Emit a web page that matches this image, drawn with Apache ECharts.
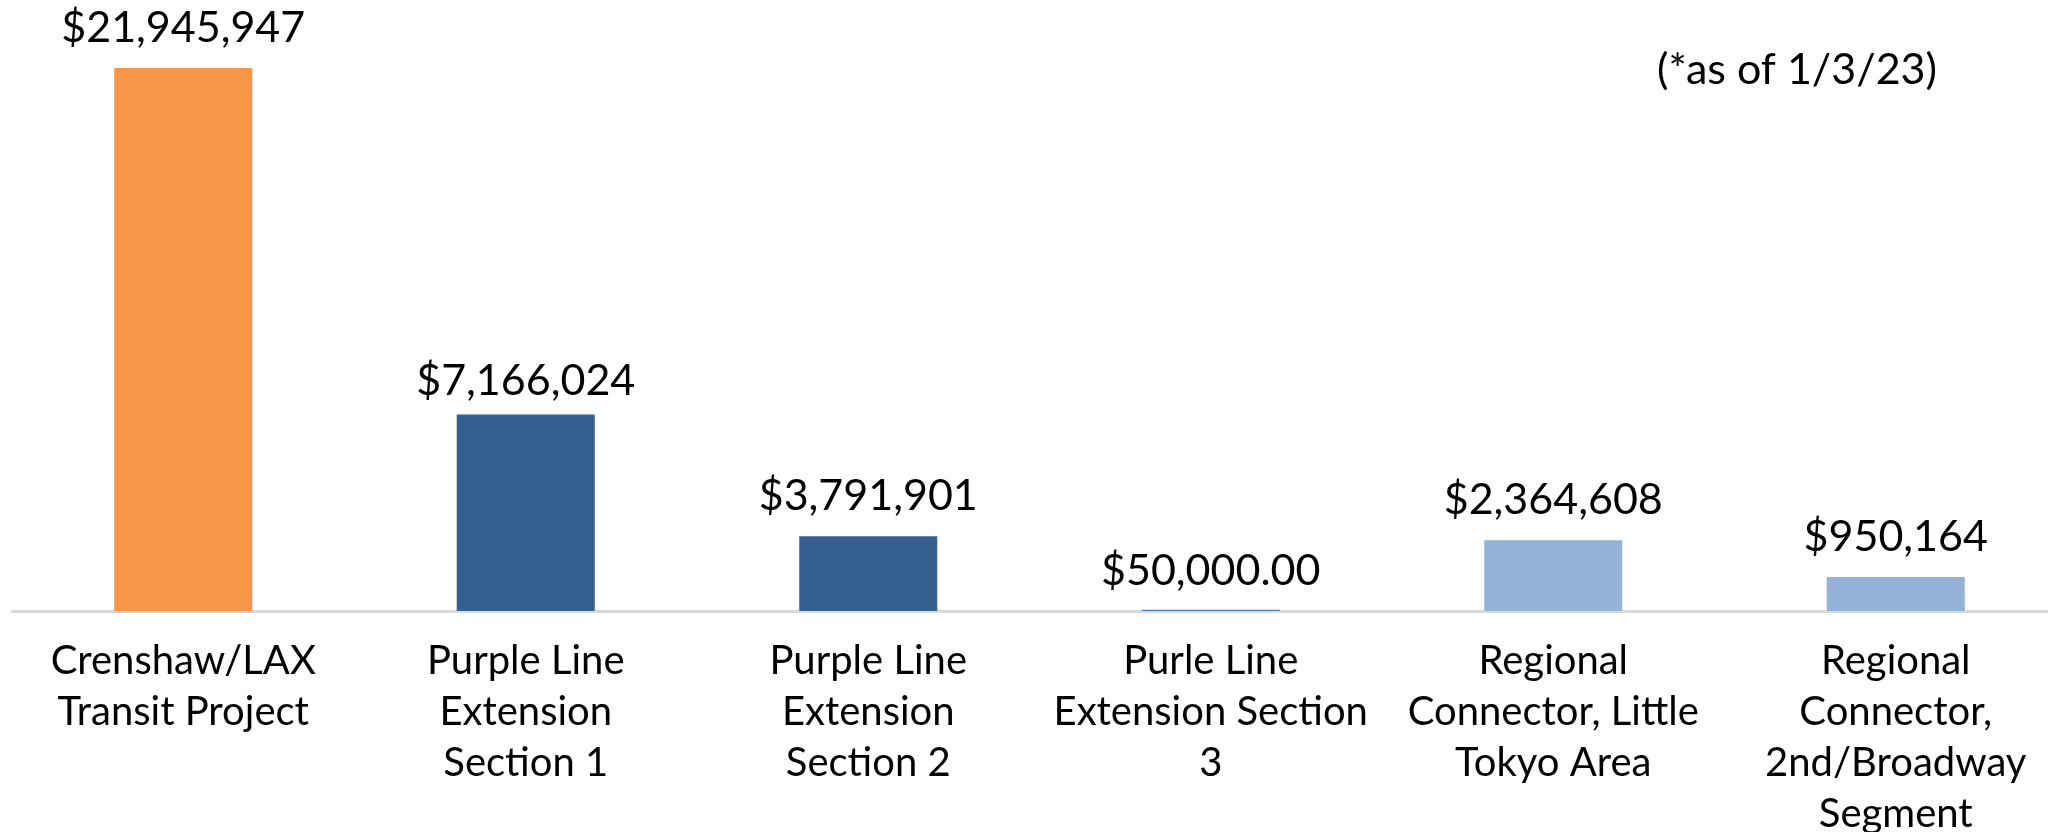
<!DOCTYPE html>
<html>
<head>
<meta charset="utf-8">
<script src="https://cdn.jsdelivr.net/npm/echarts@6/dist/echarts.min.js"></script>
<style>
  html, body { margin: 0; padding: 0; background: #fff; }
  #main { width: 2048px; height: 832px; }
</style>
</head>
<body>
<div id="main"></div>
<script>
// project names, wrapped the way the original chart wraps them
const categories = [
    "Crenshaw/LAX\nTransit Project",
    "Purple Line\nExtension\nSection 1",
    "Purple Line\nExtension\nSection 2",
    "Purle Line\nExtension Section\n3",
    "Regional\nConnector, Little\nTokyo Area",
    "Regional\nConnector,\n2nd/Broadway\nSegment"
];
// bar heights as drawn in the picture (dollars)
const barValues = [21945947, 7946000, 3021000, 50000, 2859000, 1375000];
// the amounts printed on top of each bar
const valueLabels = ["$21,945,947", "$7,166,024", "$3,791,901", "$50,000.00", "$2,364,608", "$950,164"];
const barColors = ["#F79646", "#366092", "#366092", "#4F81BD", "#95B3D7", "#95B3D7"];
const labelGaps = [18, 11, 18, 17, 18, 18];

let myChart = echarts.init(document.getElementById('main'));

let data = barValues.map((v, i) => ({
    value: v,
    itemStyle: { color: barColors[i] },
    label: { distance: labelGaps[i] }
}));

let option = {
    animation: false,
    title: {
        text: "(*as of 1/3/23)",
        right: 106,
        top: 44,
        textStyle: { fontFamily: "Lato", fontSize: 43, fontWeight: "normal", color: "#000" }
    },
    grid: { left: 12, top: 68, width: 2055, height: 543, containLabel: false, outerBoundsMode: "none" },
    xAxis: {
        type: "category",
        data: categories,
        axisLine: { lineStyle: { color: "#D9D9D9", width: 3 } },
        axisTick: { show: false },
        axisLabel: {
            interval: 0,
            margin: 25,
            fontFamily: "Lato",
            fontSize: 40,
            lineHeight: 51,
            color: "#000"
        }
    },
    yAxis: {
        type: "value",
        min: 0,
        max: "dataMax",
        show: false,
        splitLine: { show: false }
    },
    series: [{
        type: "bar",
        data: data,
        barWidth: "40.3%",
        label: {
            show: true,
            position: "top",
            fontFamily: "Lato",
            fontSize: 43,
            lineHeight: 44,
            color: "#000",
            formatter: (p) => valueLabels[p.dataIndex]
        }
    }]
};
myChart.setOption(option);
</script>
</body>
</html>
